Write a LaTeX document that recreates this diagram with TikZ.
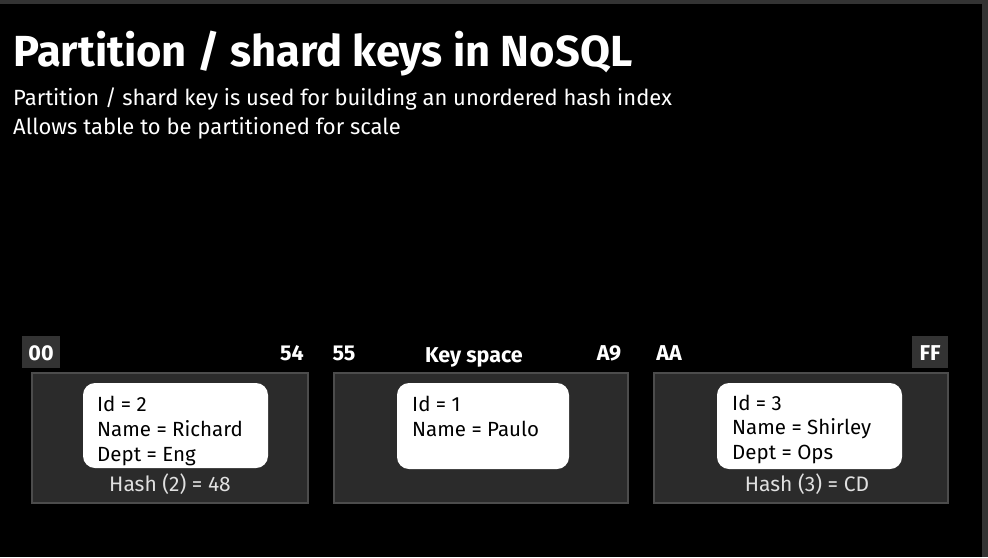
\documentclass[tikz,border=0pt]{standalone}
\usepackage{fontspec}
\setmainfont{Fira Sans}
\begin{document}
\begin{tikzpicture}[x=1pt,y=-1pt,
  part/.style={draw=gray!60!black!100, line width=1.5pt, fill=black!83},
  rec/.style={fill=white, rounded corners=12pt},
  rtxt/.style={anchor=base west, text=black, font=\fontsize{20.5}{24}\selectfont, inner sep=0pt},
  htxt/.style={anchor=base, text=white!88!black, font=\fontsize{21}{24}\selectfont, inner sep=0pt},
  ktxt/.style={anchor=base, text=white, font=\bfseries\fontsize{21.5}{24}\selectfont, inner sep=0pt},
  kbox/.style={fill=black!80}]
\fill[black] (0,0) rectangle (988,557);
\useasboundingbox (0,0) rectangle (988,557);
\fill[black!80] (0,0) rectangle (988,4);
\fill[black!80] (982,0) rectangle (988,557);
% title
\node[anchor=base west, text=white, font=\bfseries\fontsize{43.5}{48}\selectfont, inner sep=0pt] (title) at (13,66) {Partition / shard keys in NoSQL};
\node[anchor=base west, text=white, font=\fontsize{22}{25}\selectfont, inner sep=0pt] (sub1) at (13,105) {Partition / shard key is used for building an unordered hash index};
\node[anchor=base west, text=white, font=\fontsize{22}{25}\selectfont, inner sep=0pt] (sub2) at (13,134) {Allows table to be partitioned for scale};
% partitions
\draw[part] (32,373) rectangle (308,503);
\draw[part] (334,373) rectangle (628,503);
\draw[part] (654,373) rectangle (948,503);
% records
\fill[rec] (83,383) rectangle (268,468);
\fill[rec] (397,383) rectangle (569,469);
\fill[rec] (717,383) rectangle (902,469);
\node[rtxt] (r1a) at (97,411) {Id = 2};
\node[rtxt] (r1b) at (97,436) {Name = Richard};
\node[rtxt] (r1c) at (97,461) {Dept = Eng};
\node[rtxt] (r2a) at (412,411) {Id = 1};
\node[rtxt] (r2b) at (412,436) {Name = Paulo};
\node[rtxt] (r3a) at (732,410) {Id = 3};
\node[rtxt] (r3b) at (732,434) {Name = Shirley};
\node[rtxt] (r3c) at (732,459) {Dept = Ops};
\node[htxt] (h1) at (170,491) {Hash (2) = 48};
\node[htxt] (h3) at (807,491) {Hash (3) = CD};
% key labels
\fill[kbox] (22,336) rectangle (60,368);
\fill[kbox] (912,336) rectangle (948,368);
\node[ktxt] (k00) at (41,360) {00};
\node[ktxt] (k54) at (292,360) {54};
\node[ktxt] (k55) at (344,360) {55};
\node[ktxt] (ks) at (474,362) {Key space};
\node[ktxt] (kA9) at (609,360) {A9};
\node[ktxt] (kAA) at (669,360) {AA};
\node[ktxt] (kFF) at (930,360) {FF};
\end{tikzpicture}
\end{document}
